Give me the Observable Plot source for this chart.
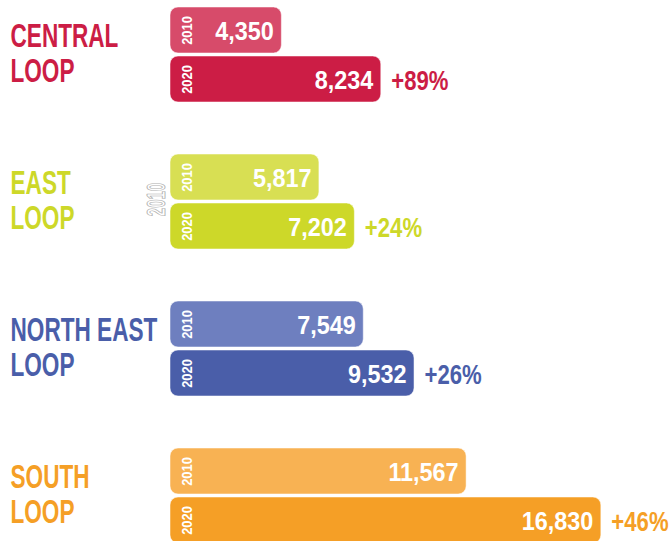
<!DOCTYPE html>
<html><head><meta charset="utf-8">
<script src="https://cdn.jsdelivr.net/npm/d3@7"></script>
<script src="https://cdn.jsdelivr.net/npm/@observablehq/plot@0.6"></script>
<style>html,body{margin:0;padding:0;background:#fff;overflow:hidden;}</style>
</head><body><div id="chart"></div>
<script>
const loops = ["CENTRAL\nLOOP", "EAST\nLOOP", "NORTH EAST\nLOOP", "SOUTH\nLOOP"];
const values2010 = [4350, 5817, 7549, 11567];
const values2020 = [8234, 7202, 9532, 16830];
const changes = ["+89%", "+24%", "+26%", "+46%"];
const colors2010 = ["#d74b6a", "#d8df53", "#6e7fbf", "#f8b253"];
const colors2020 = ["#cc1d45", "#cdd829", "#4a5ea9", "#f59f26"];
const ghost = [{key: "1-2010", text: "2010"}];

const rows = [];
const rowDomain = [];
loops.forEach((loop, i) => {
  if (i) rowDomain.push(`gap${i}`);
  rowDomain.push(`${i}-2010`, `${i}-2020`);
  rows.push({key: `${i}-2010`, year: "2010", value: values2010[i], color: colors2010[i]});
  rows.push({key: `${i}-2020`, year: "2020", value: values2020[i], color: colors2020[i]});
});
const labels = loops.map((loop, i) => ({key: `${i}-2010`, loop, color: colors2020[i]}));
const changeRows = changes.map((c, i) => ({key: `${i}-2020`, change: c, value: values2020[i], color: colors2020[i]}));

const font = "'Liberation Sans', Arial, sans-serif";
const chart = Plot.plot({
  width: 671, height: 546,
  marginLeft: 170, marginRight: 0, marginTop: 7, marginBottom: 0,
  x: {domain: [0, 19570], axis: null},
  y: {domain: rowDomain, axis: null, paddingInner: 0.067, paddingOuter: 0, align: 0},
  color: {type: "identity"},
  style: {fontFamily: font, background: "#fff"},
  marks: [
    Plot.barX(rows, {x: "value", y: "key", fill: "color", rx: 8, stroke: "#fff", strokeOpacity: 0.5, strokeWidth: 1}),
    Plot.text(ghost, {x: 0, y: "key", text: "text", rotate: -90, dx: -14, dy: 22, fill: "#fff", stroke: "#b0b0b0", strokeWidth: 0.9, paintOrder: "normal", fontSize: 25, fontWeight: "bold"}),
    Plot.text(rows, {x: 0, y: "key", text: "year", rotate: -90, dx: 17, fill: "#fff", fontSize: 14, fontWeight: "bold", textAnchor: "middle"}),
    Plot.text(rows, {x: "value", y: "key", text: d => d3.format(",")(d.value), textAnchor: "end", dx: -8, dy: 1, fill: "#fff", fontSize: 26, fontWeight: "bold"}),
    Plot.text(changeRows, {x: "value", y: "key", text: "change", textAnchor: "start", dx: 10, dy: 2, fill: "color", fontSize: 27, fontWeight: "bold"}),
    Plot.text(labels, {y: "key", frameAnchor: "left", dx: -160, dy: 23, text: "loop", textAnchor: "start", lineAnchor: "middle", lineHeight: 1.06, fill: "color", fontSize: 33, fontWeight: "bold"})
  ]
});
document.getElementById("chart").appendChild(chart);

function squeeze(size, s) {
  d3.select(chart).selectAll("g")
    .filter(function() { return this.getAttribute("font-size") === String(size); })
    .selectAll("text").each(function() {
      const t = this.getAttribute("transform");
      if (t) this.setAttribute("transform", `${t} scale(${s},1)`);
      else {
        const x = this.getAttribute("x") || 0, y = this.getAttribute("y") || 0;
        this.removeAttribute("x"); this.removeAttribute("y");
        this.setAttribute("transform", `translate(${x},${y}) scale(${s},1)`);
      }
    });
}
squeeze(33, 0.685);
squeeze(26, 0.9);
squeeze(27, 0.82);
squeeze(14, 0.92);
squeeze(25, 0.6);
</script>
</body></html>
